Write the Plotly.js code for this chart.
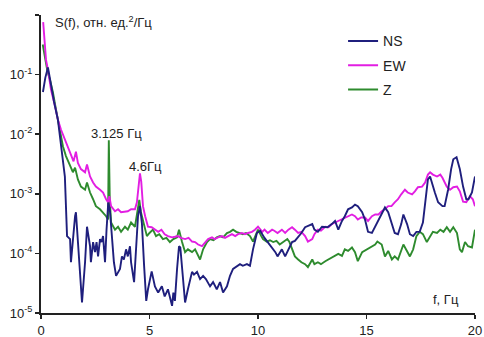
<!DOCTYPE html>
<html>
<head>
<meta charset="utf-8">
<script src="https://cdn.plot.ly/plotly-3.0.1.min.js"></script>
<style>html,body{margin:0;padding:0;background:#fff;}#chart{width:484px;height:337px;}</style>
</head>
<body>
<div id="chart"></div>
<script>
// Frequencies (Hz) and spectral density S(f)
const nsF = [0.09,0.2,0.32,0.46,0.6,0.78,0.92,1.1,1.2,1.34,1.38,1.47,1.57,1.61,1.7,1.8,1.89,2.03,2.12,2.26,2.3,2.4,2.49,2.56,2.63,2.72,2.79,2.86,2.95,3.02,3.1,3.18,3.27,3.36,3.46,3.64,3.73,3.82,3.92,4.0,4.1,4.15,4.29,4.38,4.47,4.56,4.65,4.75,4.85,4.93,5.1,5.25,5.4,5.57,5.7,5.85,6.04,6.1,6.17,6.27,6.36,6.42,6.54,6.64,6.77,6.96,7.05,7.19,7.33,7.47,7.6,7.79,7.93,8.1,8.25,8.39,8.57,8.71,8.85,9.03,9.17,9.3,9.49,9.63,9.77,9.95,10.1,10.3,10.55,10.8,10.9,11.1,11.25,11.4,11.57,11.7,11.85,12.0,12.17,12.3,12.5,12.6,12.76,12.95,13.05,13.2,13.4,13.55,13.7,13.87,14.0,14.15,14.33,14.47,14.6,14.8,14.93,15.07,15.25,15.4,15.6,15.85,16.0,16.17,16.3,16.45,16.6,16.7,16.87,17.0,17.15,17.3,17.45,17.6,17.7,17.83,17.93,18.0,18.15,18.3,18.5,18.6,18.76,18.9,19.0,19.15,19.3,19.45,19.6,19.7,19.86,20.0];
const nsS = [5.1e-2,8.9e-2,1.32e-1,6.3e-2,3.5e-2,1.74e-2,7.2e-3,1.95e-3,1.95e-4,1.74e-4,7.1e-5,1.95e-4,4.2e-4,4.9e-4,1.55e-4,4.2e-5,1.5e-5,7.1e-5,2.8e-4,1.32e-4,7.1e-5,1.55e-4,1.05e-4,1.55e-4,8.9e-5,1.74e-4,1.55e-4,1.95e-4,7.1e-5,2.5e-4,7.1e-4,5.0e-4,1.55e-4,7.1e-5,4.2e-5,5.5e-5,8.9e-5,7.9e-5,1.17e-4,8.9e-5,1.32e-4,7.1e-5,3.3e-5,1.17e-4,4.2e-4,6.2e-4,3.2e-4,6.3e-5,1.6e-5,2.5e-5,5.0e-5,2.8e-5,2.2e-5,2.8e-5,1.9e-5,2.5e-5,1.32e-5,2.2e-5,1.6e-5,5.5e-5,1.32e-4,1.26e-4,3.3e-5,1.5e-5,2.5e-5,4.9e-5,4.4e-5,4.9e-5,3.7e-5,4.2e-5,3.7e-5,2.8e-5,3.3e-5,2.5e-5,3.3e-5,2.2e-5,2.8e-5,4.2e-5,5.5e-5,6.2e-5,6.6e-5,6.2e-5,6.6e-5,6.2e-5,1.17e-4,2.2e-4,2.4e-4,1.82e-4,1.41e-4,1.05e-4,8.9e-5,1.17e-4,8.9e-5,1.17e-4,1.55e-4,1.62e-4,1.86e-4,2.2e-4,2.75e-4,2.9e-4,3.1e-4,2.5e-4,2.3e-4,2.8e-4,2.8e-4,2.75e-4,3.1e-4,3.5e-4,2.5e-4,3.5e-4,4.2e-4,5.5e-4,5.9e-4,6.6e-4,6.2e-4,4.9e-4,3.7e-4,2.3e-4,2.2e-4,2.8e-4,4.0e-4,5.9e-4,4.9e-4,3.1e-4,2.2e-4,2.1e-4,3.1e-4,4.5e-4,3.1e-4,2.1e-4,1.95e-4,2.3e-4,2.3e-4,3.3e-4,6.2e-4,1.74e-3,1.95e-3,1.55e-3,1.05e-3,7.2e-4,6.2e-4,6.2e-4,1.17e-3,2.6e-3,3.8e-3,4.1e-3,2.6e-3,1.32e-3,8.1e-4,8.1e-4,1.05e-3,1.95e-3];

const ewF = [0.1,0.18,0.23,0.32,0.46,0.65,0.78,0.92,1.1,1.24,1.38,1.5,1.61,1.7,1.84,2.03,2.12,2.26,2.4,2.53,2.72,2.86,3.0,3.09,3.15,3.23,3.41,3.55,3.69,3.87,4.0,4.15,4.33,4.42,4.51,4.56,4.62,4.7,4.8,4.93,5.1,5.25,5.4,5.55,5.7,5.85,6.04,6.17,6.3,6.45,6.64,6.8,6.96,7.1,7.24,7.42,7.56,7.7,7.88,8.0,8.16,8.34,8.48,8.62,8.8,8.95,9.08,9.26,9.4,9.54,9.72,9.86,10.0,10.2,10.3,10.45,10.65,10.75,10.9,11.1,11.25,11.4,11.57,11.7,11.85,12.0,12.17,12.3,12.5,12.6,12.76,12.9,13.1,13.25,13.4,13.55,13.7,13.87,14.0,14.15,14.33,14.47,14.6,14.75,14.93,15.07,15.25,15.4,15.55,15.7,15.85,16.0,16.15,16.3,16.45,16.6,16.77,16.9,17.1,17.23,17.37,17.56,17.7,17.83,17.93,18.06,18.25,18.4,18.5,18.7,18.85,19.0,19.17,19.3,19.45,19.6,19.77,19.9,20.0];
const ewS = [0.76,0.34,0.178,0.12,5.6e-2,2.9e-2,1.74e-2,1.2e-2,8.1e-3,6.3e-3,4.3e-3,3.5e-3,5.1e-3,3.3e-3,2.6e-3,2.3e-3,3.1e-3,1.95e-3,1.55e-3,1.32e-3,1.17e-3,1.05e-3,8.1e-4,7.2e-4,9.1e-4,6.2e-4,5.1e-4,5.5e-4,4.9e-4,5.1e-4,5.1e-4,5.5e-4,5.5e-4,7.2e-4,1.74e-3,2.2e-3,1.6e-3,6.2e-4,4.2e-4,2.8e-4,2.75e-4,2.5e-4,2.3e-4,2.5e-4,2.1e-4,1.95e-4,1.86e-4,1.9e-4,1.95e-4,1.82e-4,1.74e-4,1.82e-4,1.58e-4,1.55e-4,1.41e-4,1.32e-4,1.55e-4,1.74e-4,1.86e-4,1.74e-4,1.86e-4,1.95e-4,1.82e-4,1.95e-4,2.1e-4,1.95e-4,2.1e-4,2.2e-4,2.1e-4,2.2e-4,2.3e-4,2.5e-4,2.8e-4,2.3e-4,2.5e-4,2.2e-4,2.5e-4,2.4e-4,2.2e-4,2.5e-4,2.2e-4,2.5e-4,2.75e-4,2.5e-4,2.2e-4,2.3e-4,1.95e-4,1.58e-4,1.74e-4,2.1e-4,2.5e-4,2.4e-4,2.8e-4,2.75e-4,3.1e-4,3.3e-4,3.5e-4,3.7e-4,4.0e-4,4.2e-4,4.5e-4,4.2e-4,3.7e-4,4.0e-4,4.0e-4,3.5e-4,4.2e-4,4.5e-4,4.5e-4,5.1e-4,5.5e-4,6.2e-4,6.2e-4,7.2e-4,8.1e-4,9.8e-4,1.17e-3,1.05e-3,9.8e-4,1.1e-3,1.29e-3,1.32e-3,1.55e-3,2.1e-3,2.3e-3,2.1e-3,1.95e-3,2.1e-3,1.86e-3,1.32e-3,1.17e-3,1.29e-3,1.32e-3,1.1e-3,7.4e-4,7.2e-4,9.1e-4,8.1e-4,6.2e-4];

const zF = [0.08,0.18,0.3,0.41,0.55,0.69,0.88,1.01,1.15,1.34,1.47,1.57,1.7,1.84,2.03,2.12,2.26,2.4,2.53,2.72,2.86,3.0,3.09,3.125,3.17,3.23,3.41,3.55,3.69,3.87,4.0,4.15,4.33,4.45,4.53,4.6,4.7,4.79,4.88,5.0,5.16,5.3,5.45,5.62,5.78,5.94,6.1,6.27,6.36,6.5,6.64,6.77,6.96,7.1,7.24,7.33,7.47,7.65,7.79,7.95,8.1,8.25,8.39,8.57,8.71,8.85,9.0,9.17,9.3,9.45,9.63,9.77,9.95,10.0,10.15,10.23,10.4,10.55,10.7,10.85,11.0,11.15,11.35,11.45,11.57,11.7,11.85,12.0,12.17,12.3,12.5,12.6,12.76,12.9,13.1,13.25,13.4,13.55,13.7,13.87,14.0,14.15,14.33,14.47,14.6,14.8,14.93,15.07,15.25,15.4,15.5,15.7,15.85,16.0,16.17,16.3,16.45,16.6,16.7,16.85,17.0,17.15,17.3,17.45,17.6,17.78,17.93,18.06,18.25,18.4,18.55,18.7,18.85,19.0,19.17,19.3,19.4,19.54,19.68,19.86,20.0];
const zS = [0.32,0.19,0.112,8.3e-2,5.0e-2,2.6e-2,1.2e-2,6.3e-3,4.3e-3,2.9e-3,2.3e-3,2.75e-3,1.74e-3,1.32e-3,1.17e-3,1.55e-3,1.05e-3,8.1e-4,6.2e-4,5.5e-4,4.9e-4,4.2e-4,3.7e-4,7.9e-3,7.9e-4,3.3e-4,2.5e-4,2.8e-4,2.3e-4,2.8e-4,2.5e-4,3.3e-4,2.8e-4,5.0e-4,7.9e-4,5.0e-4,3.5e-4,2.5e-4,1.95e-4,2.2e-4,2.5e-4,1.95e-4,2.1e-4,1.74e-4,1.82e-4,1.55e-4,1.74e-4,1.86e-4,2.5e-4,1.55e-4,1.05e-4,1.17e-4,1.05e-4,1.17e-4,8.9e-5,7.9e-5,1.17e-4,1.55e-4,1.74e-4,1.66e-4,1.86e-4,1.95e-4,1.86e-4,2.2e-4,2.3e-4,2.5e-4,2.3e-4,2.2e-4,2.1e-4,2.2e-4,1.95e-4,1.58e-4,2.2e-4,2.5e-4,1.95e-4,1.74e-4,1.58e-4,1.66e-4,1.55e-4,1.62e-4,1.41e-4,1.55e-4,1.74e-4,1.55e-4,1.17e-4,8.9e-5,7.9e-5,7.1e-5,6.6e-5,5.9e-5,7.9e-5,6.6e-5,7.1e-5,6.6e-5,7.4e-5,7.9e-5,8.7e-5,9.1e-5,9.8e-5,9.1e-5,1.17e-4,1.1e-4,1.26e-4,1.05e-4,7.4e-5,1.05e-4,1.12e-4,1.2e-4,1.32e-4,1.41e-4,1.58e-4,1.41e-4,8.9e-5,1.1e-4,7.9e-5,8.9e-5,7.9e-5,1.17e-4,1.41e-4,1.12e-4,8.9e-5,1.17e-4,1.95e-4,2.3e-4,2.1e-4,1.55e-4,1.95e-4,2.3e-4,2.2e-4,2.5e-4,2.3e-4,2.75e-4,2.3e-4,2.75e-4,2.2e-4,1.17e-4,1.05e-4,1.55e-4,1.32e-4,1.26e-4,2.5e-4];

const seriesNames = ['NS','EW','Z'];
const xTicks = [0,5,10,15,20];
const yTicks = [1e-5,1e-4,1e-3,1e-2,1e-1,1];
const yTickText = ['10<sup>-5</sup>','10<sup>-4</sup>','10<sup>-3</sup>','10<sup>-2</sup>','10<sup>-1</sup>',''];

const FONT = 'Liberation Sans, Arial, sans-serif';
const colors = ['#1f1f7d','#e21ee2','#2e8b2e'];

const traces = [
  {x: nsF, y: nsS, name: seriesNames[0], legendgroup: 'a', legendrank: 1},
  {x: ewF, y: ewS, name: seriesNames[1], legendgroup: 'b', legendrank: 2},
  {x: zF, y: zS, name: seriesNames[2], legendgroup: 'c', legendrank: 3}
].map((t, i) => Object.assign(t, {type: 'scatter', mode: 'lines', line: {color: colors[i], width: 1.9}}));
// draw order: NS on top
const ordered = [traces[2], traces[1], traces[0]];

const layout = {
  width: 484, height: 337,
  margin: {l: 41, r: 9, t: 15, b: 24, pad: 0},
  paper_bgcolor: '#fff', plot_bgcolor: '#fff',
  font: {family: FONT, size: 13, color: '#222'},
  showlegend: true,
  legend: {x: 0.696, y: 0.965, xanchor: 'left', yanchor: 'top', traceorder: 'grouped', tracegroupgap: 3,
           itemwidth: 30, font: {family: FONT, size: 14, color: '#222'}, bgcolor: 'rgba(0,0,0,0)'},
  xaxis: {range: [0, 20], tickvals: xTicks, ticks: 'outside', ticklen: 4, tickwidth: 1.5, tickcolor: '#222',
          showline: true, linewidth: 2, linecolor: '#222', showgrid: false, zeroline: false,
          tickfont: {family: FONT, size: 13, color: '#222'}, fixedrange: true},
  yaxis: {type: 'log', range: [-5, 0], tickvals: yTicks, ticktext: yTickText, ticks: 'outside', ticklen: 4,
          tickwidth: 1.5, tickcolor: '#222', showline: true, linewidth: 2, linecolor: '#222', showgrid: false,
          zeroline: false, tickfont: {family: FONT, size: 13, color: '#222'}, fixedrange: true},
  annotations: [
    {xref: 'paper', yref: 'paper', x: 0.028, y: 0.977, xanchor: 'left', yanchor: 'middle', showarrow: false,
     text: 'S(f), отн. ед.<sup>2</sup>/Гц', font: {family: FONT, size: 13, color: '#222'}},
    {xref: 'paper', yref: 'paper', x: 0.933, y: 0.044, xanchor: 'center', yanchor: 'middle', showarrow: false,
     text: 'f, Гц', font: {family: FONT, size: 13, color: '#222'}},
    {xref: 'paper', yref: 'paper', x: 0.173, y: 0.604, xanchor: 'center', yanchor: 'middle', showarrow: false,
     text: '3.125 Гц', font: {family: FONT, size: 13, color: '#222'}},
    {xref: 'paper', yref: 'paper', x: 0.24, y: 0.49, xanchor: 'center', yanchor: 'middle', showarrow: false,
     text: '4.6Гц', font: {family: FONT, size: 13, color: '#222'}}
  ]
};

Plotly.newPlot('chart', ordered, layout, {displayModeBar: false, staticPlot: true});
</script>
</body>
</html>
